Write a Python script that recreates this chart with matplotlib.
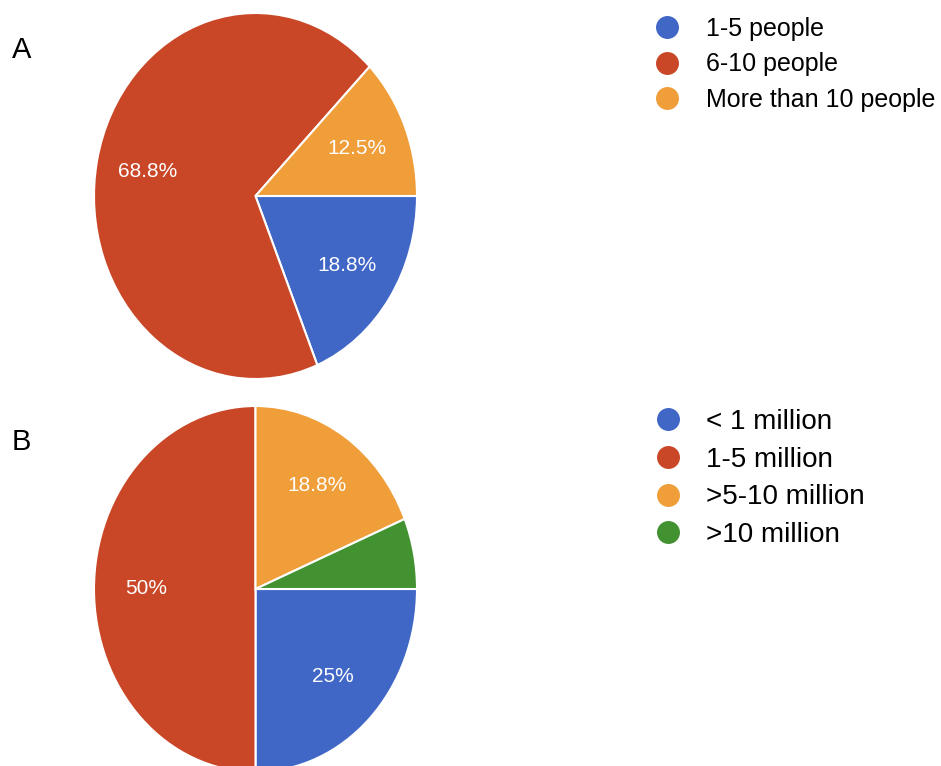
import matplotlib
matplotlib.use("Agg")
import matplotlib.pyplot as plt
from matplotlib.lines import Line2D

plt.rcParams['font.family'] = ['Liberation Sans', 'DejaVu Sans']

# panel A: team size
team_labels = ["1-5 people", "6-10 people", "More than 10 people"]
team_counts = [3, 11, 2]

# panel B: budget
budget_labels = ["< 1 million", "1-5 million", ">5-10 million", ">10 million"]
budget_counts = [4, 8, 3, 1]

colors = ["#4066C6", "#C94727", "#F09E3A", "#439232"]


def fmt_pct(p):
    if p < 10:
        return ""
    s = "%.1f" % p
    if s.endswith(".0"):
        s = s[:-2]
    return s + "%"


fig = plt.figure(figsize=(9.41, 7.66), dpi=100)

W, H = 941.0, 766.0


def pie_axes(top_px):
    left = 94 / W
    width = 323 / W
    height = 366 / H
    bottom = 1 - (top_px + 366) / H
    return fig.add_axes([left, bottom, width, height])


for top, counts, labels, tag, ty in [(13, team_counts, team_labels, "A", 50),
                                     (406, budget_counts, budget_labels, "B", 442)]:
    ax = pie_axes(top)
    wedges, texts, autotexts = ax.pie(
        counts, colors=colors[:len(counts)], startangle=0, counterclock=False,
        autopct=fmt_pct, pctdistance=0.68,
        wedgeprops=dict(edgecolor="white", linewidth=1.5),
        textprops=dict(color="white", fontsize=15))
    ax.set_aspect("auto")
    ax.set_xlim(-1, 1)
    ax.set_ylim(-1, 1)
    fig.text(12 / W, 1 - ty / H, tag, fontsize=21, va="center", ha="left")

# legends
handles_a = [Line2D([], [], marker="o", linestyle="none", markersize=15.5,
                    markerfacecolor=c, markeredgecolor=c) for c in colors[:3]]
fig.legend(handles_a, team_labels, loc="upper left",
           bbox_to_anchor=(644 / W, 1 - 7 / H), frameon=False,
           fontsize=18, handlelength=1.0, handletextpad=1.08,
           labelspacing=0.46, borderaxespad=0)

handles_b = [Line2D([], [], marker="o", linestyle="none", markersize=15.5,
                    markerfacecolor=c, markeredgecolor=c) for c in colors]
fig.legend(handles_b, budget_labels, loc="upper left",
           bbox_to_anchor=(644 / W, 1 - 398 / H), frameon=False,
           fontsize=20, handlelength=0.9, handletextpad=0.95,
           labelspacing=0.42, borderaxespad=0)

fig.savefig("out.png", dpi=100, facecolor="white")
